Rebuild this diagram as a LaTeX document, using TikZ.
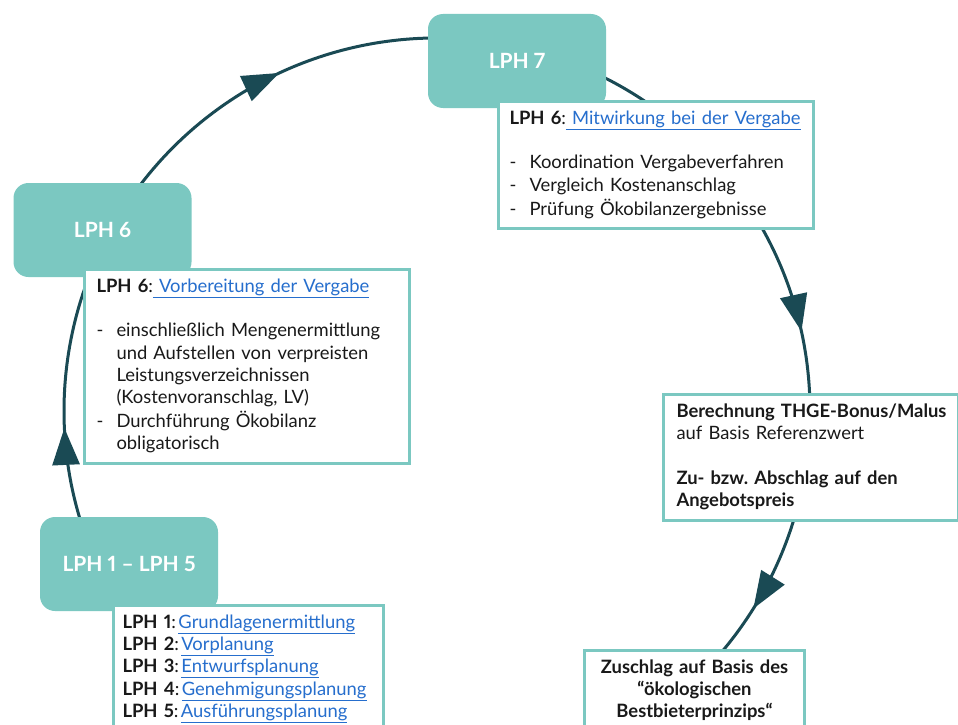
\documentclass[tikz,border=0pt]{standalone}
\usepackage{fontspec}
\setmainfont[Numbers=Proportional]{Lato}
\usetikzlibrary{arrows.meta,decorations.markings}
\definecolor{tealbox}{RGB}{123,200,193}
\definecolor{darkline}{RGB}{26,74,84}
\definecolor{linkblue}{RGB}{38,110,205}
\definecolor{txt}{RGB}{25,25,25}
\newcommand{\lnk}[1]{\textcolor{linkblue}{\underline{#1}}}
\newcommand{\itm}[1]{\strut\makebox[20pt][l]{-}#1}
\newcommand{\cnt}[1]{\strut\hspace*{20pt}#1}
\frenchspacing
\begin{document}
\begin{tikzpicture}[x=1pt,y=1pt,
  lph/.style={fill=tealbox, rounded corners=15pt, minimum width=178pt, minimum height=94pt,
    text=white, font=\fontsize{21}{24}\selectfont\bfseries, inner sep=0pt},
  tbox/.style={draw=tealbox, line width=3pt, fill=white, anchor=north west, align=left,
    inner ysep=7pt, text=txt, font=\fontsize{18.4}{22.3}\selectfont},
  conn/.style={draw=darkline, color=darkline, line width=3pt},
  midarrow/.style={decoration={markings, mark=at position #1 with {\arrow{Triangle[length=37pt,width=27pt]}}}, postaction={decorate}},
  ]
\useasboundingbox (0,0) rectangle (958,-725);
\clip (0,0) rectangle (958,-725);

% circle centre and arc starts
\coordinate (O) at (437,-411);
\path (O) ++(200:373) coordinate (s1);
\path (O) ++(150:373) coordinate (s2);
\path (O) ++(80:373) coordinate (s3);
\path (O) ++(0:373) coordinate (s4);

\draw[conn, midarrow=0.348] (s1) arc[start angle=200, end angle=150, radius=373];
\draw[conn, midarrow=0.5] (s2) arc[start angle=150, end angle=80, radius=373];
\draw[conn, midarrow=0.846] (s3) arc[start angle=80, end angle=0, radius=373];
\draw[conn, midarrow=0.711] (s4) arc[start angle=0, end angle=-45, radius=373];

% phase boxes
\node[lph] (lph7) at (517,-61) {LPH 7};
\node[lph] (lph6) at (102.5,-230) {LPH 6};
\node[lph] (lph15) at (129,-564) {LPH 1 -- LPH 5};

% text boxes
\node[tbox, inner xsep=11pt, text width=293pt, minimum width=315pt, minimum height=126pt] (t7) at (497,-100) {%
\strut\textbf{LPH 6}:\lnk{\ Mitwirkung bei der Vergabe}\\
\strut\\
\itm{Koordination Vergabeverfahren}\\
\itm{Vergleich Kostenanschlag}\\
\itm{Prüfung Ökobilanzergebnisse}};

\node[tbox, inner xsep=12pt, text width=301pt, minimum width=325pt, minimum height=193pt] (t6) at (83,-268) {%
\strut\textbf{LPH 6}:\lnk{\ Vorbereitung der Vergabe}\\
\strut\\
\itm{einschließlich Mengenermittlung}\\
\cnt{und Aufstellen von verpreisten}\\
\cnt{Leistungsverzeichnissen}\\
\cnt{(Kostenvoranschlag, LV)}\\
\itm{Durchführung Ökobilanz}\\
\cnt{obligatorisch}};

\node[tbox, inner xsep=9pt, text width=252pt, minimum width=270pt] (t15) at (112,-604) {%
\strut\textbf{LPH 1}:\hspace{2.5pt}\lnk{Grundlagenermittlung}\\
\strut\textbf{LPH 2}:\hspace{2.5pt}\lnk{Vorplanung}\\
\strut\textbf{LPH 3}:\hspace{2.5pt}\lnk{Entwurfsplanung}\\
\strut\textbf{LPH 4}:\hspace{2.5pt}\lnk{Genehmigungsplanung}\\
\strut\textbf{LPH 5}:\hspace{2.5pt}\lnk{Ausführungsplanung}};

\node[tbox, inner xsep=13pt, text width=269pt, minimum width=295pt, minimum height=124pt] (thge) at (662,-393) {%
\strut\makebox[269pt][l]{\textbf{Berechnung THGE-Bonus/Malus}}\\
\strut auf Basis Referenzwert\\
\strut\\
\strut\textbf{Zu- bzw. Abschlag auf den}\\
\strut\textbf{Angebotspreis}};

\node[tbox, align=center, inner xsep=8pt, text width=204pt, minimum width=220pt] (zu) at (583,-649) {%
\strut\textbf{Zuschlag auf Basis des}\\
\strut\textbf{“ökologischen}\\
\strut\textbf{Bestbieterprinzips“}};
\end{tikzpicture}
\end{document}
